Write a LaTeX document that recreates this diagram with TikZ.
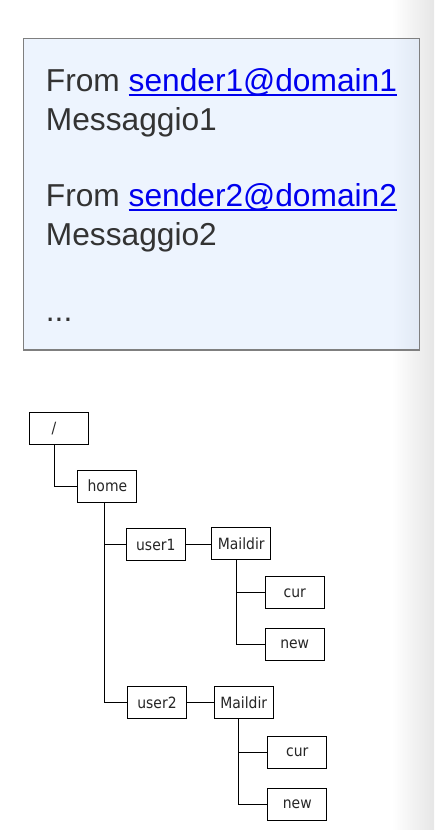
\documentclass[tikz,border=0pt]{standalone}
\usepackage{fontspec}
\setmainfont{Liberation Sans}
\newfontfamily\treefont[FakeStretch=0.9]{DejaVu Sans}
\definecolor{boxblue}{HTML}{EDF4FE}
\definecolor{boxblue2}{HTML}{E1E9F4}
\definecolor{boxborder}{HTML}{7F7F7F}
\definecolor{txtgray}{HTML}{333333}
\definecolor{linkblue}{HTML}{0000EE}
\definecolor{edgegray}{HTML}{E6E6E6}
\newcommand\myul[1]{\setbox0\hbox{#1}\rlap{\rule[-4.5pt]{\wd0}{1.8pt}}\box0}
\begin{document}
\begin{tikzpicture}[x=1pt,y=-1pt,
  msg/.style={anchor=base west,inner sep=0pt,text=txtgray,font=\fontsize{31.7}{38}\selectfont},
  dirbox/.style={draw=black,line width=1.1pt,minimum width=59pt,minimum height=32pt,inner sep=0pt,font=\treefont\fontsize{15.5}{18}\selectfont,text=black!85},
  conn/.style={draw=black,line width=1.1pt}]
\useasboundingbox (0,0) rectangle (434,830);
\fill[white] (0,0) rectangle (434,830);
\shade[left color=white,right color=edgegray] (392,0) rectangle (434,830);
% message box
\fill[boxblue] (23.5,38.5) rectangle (419.5,350);
\shade[left color=boxblue,right color=boxblue2] (392,38.5) rectangle (419.5,350);
\draw[boxborder,line width=1.2pt] (23.5,38.5) rectangle (419.5,350);
\node[msg] (l1) at (45.7,91.7) {From \textcolor{linkblue}{\myul{sender1@domain1}}};
\node[msg] (l2) at (45.7,130) {Messaggio1};
\node[msg] (l3) at (45.7,206.7) {From \textcolor{linkblue}{\myul{sender2@domain2}}};
\node[msg] (l4) at (45.7,245) {Messaggio2};
\node[msg] (l5) at (45.7,321.7) {...};
% tree
\node[dirbox] (root) at (59,428.2) {/\hspace*{10pt}};
\node[dirbox] (home) at (107.4,486.2) {home};
\node[dirbox] (user1) at (155.8,544.5) {user1};
\node[dirbox] (mail1) at (241.3,543.3) {Maildir};
\node[dirbox] (cur1) at (294.7,592.8) {cur};
\node[dirbox] (new1) at (294.7,644.7) {new};
\node[dirbox] (user2) at (157,702.8) {user2};
\node[dirbox] (mail2) at (243.8,702.8) {Maildir};
\node[dirbox] (cur2) at (297.3,752.7) {cur};
\node[dirbox] (new2) at (297.3,804.5) {new};
\coordinate (t0) at ([xshift=-4.5pt]root.south);
\coordinate (t1) at ([xshift=-2.9pt]home.south);
\coordinate (t2) at ([xshift=-4.8pt]mail1.south);
\coordinate (t3) at ([xshift=-5.3pt]mail2.south);
\draw[conn] (t0) |- (home.west);
\draw[conn] (t1) |- (user2.west);
\draw[conn] (user1.west) -- (user1.west -| t1);
\draw[conn] (user1.east) -- (user1.east -| mail1.west);
\draw[conn] (user2.east) -- (user2.east -| mail2.west);
\draw[conn] (t2) |- (new1.west);
\draw[conn] (cur1.west) -- (cur1.west -| t2);
\draw[conn] (t3) |- (new2.west);
\draw[conn] (cur2.west) -- (cur2.west -| t3);
\end{tikzpicture}
\end{document}
